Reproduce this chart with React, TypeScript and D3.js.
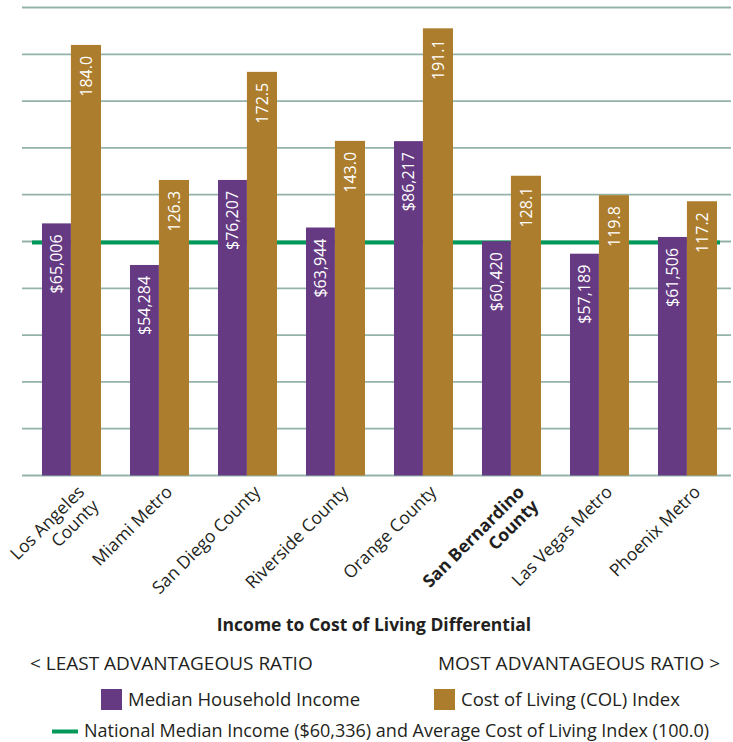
import React from "react";
import * as d3 from "d3";

const categories: string[][] = [
  ["Los Angeles", "County"],
  ["Miami Metro"],
  ["San Diego County"],
  ["Riverside County"],
  ["Orange County"],
  ["San Bernardino", "County"],
  ["Las Vegas Metro"],
  ["Phoenix Metro"],
];
const boldCategory = [false, false, false, false, false, true, false, false];
const incomes = [65006, 54284, 76207, 63944, 86217, 60420, 57189, 61506];
const colIndex = [184.0, 126.3, 172.5, 143.0, 191.1, 128.1, 119.8, 117.2];
const nationalIncome = 60336;
const nationalIndex = 100.0;
const gridTicks = d3.range(0, 201, 20);

const PURPLE = "#653a82";
const GOLD = "#ab7d2c";
const GREEN = "#00995a";
const GRID = "#93b3a8";
const TEXT = "#231f20";
const FONT = "'Open Sans', 'Noto Sans', sans-serif";

export default function App() {
  const W = 733;
  const H = 742;
  const y = d3.scaleLinear().domain([0, 200]).range([475.5, 7.5]);
  const yInc = d3
    .scaleLinear()
    .domain([0, (nationalIncome * 200) / nationalIndex])
    .range([475.5, 7.5]);
  const x = d3
    .scaleBand<number>()
    .domain(d3.range(categories.length))
    .range([22, 737])
    .paddingInner(29 / 88)
    .paddingOuter(20 / 88);
  const bw = x.bandwidth();
  const pw = bw * 0.49;
  const fmt = (v: number) => "$" + d3.format(",")(v);

  return (
    <svg
      width={W}
      height={H}
      style={{ position: "absolute", left: 0, top: 0, background: "#fff" }}
      fontFamily={FONT}
    >
      {gridTicks.map((t) => (
        <line
          key={t}
          x1={22}
          x2={731}
          y1={y(t)}
          y2={y(t)}
          stroke={GRID}
          strokeWidth={1.8}
        />
      ))}
      <line
        x1={32}
        x2={720}
        y1={y(nationalIndex) + 1}
        y2={y(nationalIndex) + 1}
        stroke={GREEN}
        strokeWidth={4}
      />
      {categories.map((c, i) => {
        const x0 = x(i)!;
        const incTop = yInc(incomes[i]);
        const colTop = y(colIndex[i]);
        return (
          <g key={i}>
            <rect x={x0} y={incTop} width={pw} height={y(0) - incTop} fill={PURPLE} />
            <rect x={x0 + pw} y={colTop} width={bw - pw} height={y(0) - colTop} fill={GOLD} />
            <text
              transform={`translate(${x0 + pw / 2 + 6},${incTop + 11}) rotate(-90)`}
              textAnchor="end"
              fill="#fff"
              fontSize={16}
            >
              {fmt(incomes[i])}
            </text>
            <text
              transform={`translate(${x0 + pw + (bw - pw) / 2 + 6},${colTop + 11}) rotate(-90)`}
              textAnchor="end"
              fill="#fff"
              fontSize={16}
            >
              {colIndex[i].toFixed(1)}
            </text>
            <text
              transform={`translate(${x0 + bw / 2 + 14},${493}) rotate(-45)`}
              textAnchor="end"
              fill={TEXT}
              fontSize={17.5}
              fontWeight={boldCategory[i] ? 700 : 400}
            >
              {c.map((line, k) => (
                <tspan key={k} x={0} dy={k === 0 ? 0 : 20}>
                  {line}
                </tspan>
              ))}
            </text>
          </g>
        );
      })}
      <text x={374} y={631} textAnchor="middle" fontSize={17.5} fontWeight={700} fill={TEXT}>
        Income to Cost of Living Differential
      </text>
      <text x={30} y={670} fontSize={19} fill={TEXT}>
        {"< LEAST ADVANTAGEOUS RATIO"}
      </text>
      <text x={720} y={670} textAnchor="end" fontSize={19} fill={TEXT}>
        {"MOST ADVANTAGEOUS RATIO >"}
      </text>
      <rect x={101} y={689} width={21} height={21} fill={PURPLE} />
      <text x={128} y={706} fontSize={18.5} fill={TEXT}>
        Median Household Income
      </text>
      <rect x={434} y={689} width={21} height={21} fill={GOLD} />
      <text x={461} y={706} fontSize={18.5} fill={TEXT}>
        Cost of Living (COL) Index
      </text>
      <line x1={52} x2={78} y1={731.5} y2={731.5} stroke={GREEN} strokeWidth={4} />
      <text x={84} y={737} fontSize={18} fill={TEXT}>
        National Median Income ($60,336) and Average Cost of Living Index (100.0)
      </text>
    </svg>
  );
}
